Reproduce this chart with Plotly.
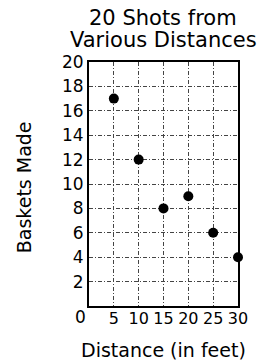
import plotly.graph_objects as go

distance = [5, 10, 15, 20, 25, 30]
baskets = [17, 12, 8, 9, 6, 4]
x_ticks = [5, 10, 15, 20, 25, 30]
y_ticks = [2, 4, 6, 8, 10, 12, 14, 16, 18, 20]

FONT = "DejaVu Sans"

fig = go.Figure()
fig.add_trace(go.Scatter(
    x=distance, y=baskets, mode="markers",
    marker=dict(color="black", size=10),
    cliponaxis=False, showlegend=False,
))

axis_common = dict(
    showline=True, linecolor="black", linewidth=2, mirror=True,
    showgrid=True, gridcolor="#444444", gridwidth=1, griddash="4px,2px,1px,2px",
    zeroline=False, ticks="", tickfont=dict(family=FONT, size=16, color="black"),
    fixedrange=True,
)
fig.update_xaxes(range=[0, 30], tickmode="array", tickvals=x_ticks,
                 ticktext=[str(v) for v in x_ticks], ticklabelstandoff=-3, **axis_common)
fig.update_yaxes(range=[0, 20], tickmode="array", tickvals=y_ticks,
                 ticktext=[str(v) for v in y_ticks], **axis_common)
fig.update_yaxes(tickfont=dict(family=FONT, size=17, color="black"))

ann_font = dict(family=FONT, color="black")
annotations = [
    dict(text="20 Shots from", x=0.497, y=1.179, font=dict(size=21, **ann_font)),
    dict(text="Various Distances", x=0.497, y=1.089, font=dict(size=21, **ann_font)),
    dict(text="Distance (in feet)", x=0.503, y=-0.18, font=dict(size=19, **ann_font)),
    dict(text="Baskets Made", x=-0.436, y=0.487, textangle=-90, font=dict(size=19, **ann_font)),
    dict(text="0", x=-0.06, y=-0.045, font=dict(size=17, **ann_font)),
]
for a in annotations:
    fig.add_annotation(xref="paper", yref="paper", showarrow=False,
                       xanchor="center", yanchor="middle", **a)

fig.update_layout(
    width=266, height=363,
    margin=dict(l=89, r=28, t=62, b=57),
    plot_bgcolor="white", paper_bgcolor="white",
    font=dict(family=FONT, color="black"),
)

fig.write_html("out.html", config={"displayModeBar": False},
               post_script="document.body.style.margin='0';document.body.style.overflow='hidden';")
